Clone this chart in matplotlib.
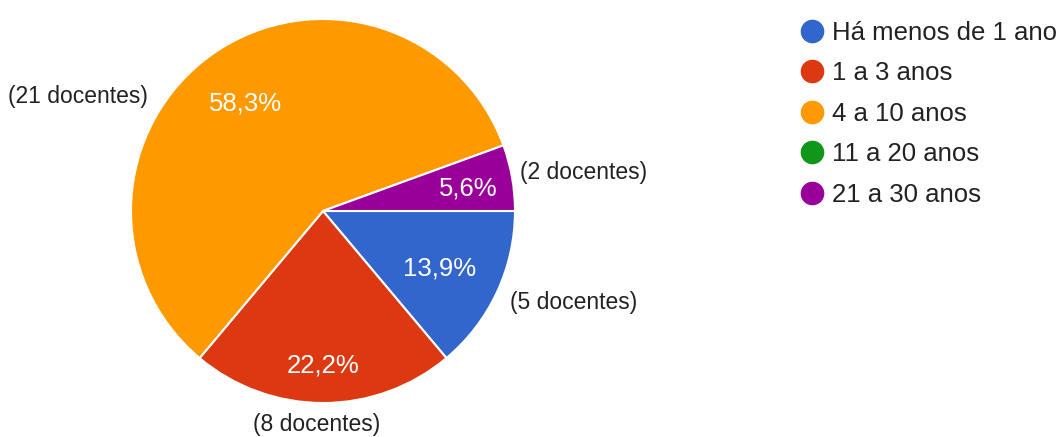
import matplotlib
matplotlib.use("Agg")
from matplotlib import pyplot as plt
from matplotlib.lines import Line2D
import numpy as np

plt.rcParams['font.family'] = ['Liberation Sans', 'DejaVu Sans']

categories = ["Há menos de 1 ano", "1 a 3 anos", "4 a 10 anos", "11 a 20 anos", "21 a 30 anos"]
counts = [5, 8, 21, 0, 2]
colors = ["#3366CC", "#DC3912", "#FF9900", "#109618", "#990099"]
count_labels = ["(5 docentes)", "(8 docentes)", "(21 docentes)", "(0 docentes)", "(2 docentes)"]

# outer label placement (pixel layout, y from top), only for slices that show
label_pos = {0: (510, 303, 'left'), 1: (317, 425, 'center'),
             2: (148, 97, 'right'), 4: (520, 173, 'left')}
# distance of the percent text from centre, as fraction of radius
pct_dist = {0: 0.67, 1: 0.79, 2: 0.70, 4: 0.77}

W, H = 1060, 437
fig = plt.figure(figsize=(W / 100, H / 100), dpi=100)
ax = fig.add_axes([0, 0, 1, 1])

shown = [i for i, c in enumerate(counts) if c > 0]
vals = [counts[i] for i in shown]

cx, cy, R = 323, H - 211, 192
wedges, texts, autotexts = ax.pie(
    vals, colors=[colors[i] for i in shown], startangle=0, counterclock=False,
    center=(cx, cy), radius=R, frame=True,
    autopct=lambda p: ("%.1f%%" % p).replace(".", ","), pctdistance=0.74,
    wedgeprops=dict(edgecolor='white', linewidth=1.5),
    textprops=dict(color='white', fontsize=18.5))
ax.set_xlim(0, W)
ax.set_ylim(0, H)
ax.set_aspect('equal')
ax.axis('off')

for w, t, i in zip(wedges, autotexts, shown):
    ang = np.deg2rad((w.theta1 + w.theta2) / 2)
    d = pct_dist[i] * R
    t.set_position((cx + d * np.cos(ang), cy + d * np.sin(ang) - 3))
    t.set_va('center')

for i in shown:
    x, y, ha = label_pos[i]
    ax.text(x, H - y, count_labels[i], ha=ha, va='center', fontsize=16.5, color='#222222')

handles = [Line2D([], [], marker='o', linestyle='none', markersize=16,
                  markerfacecolor=c, markeredgecolor=c) for c in colors]
fig.legend(handles, categories, loc='upper left', bbox_to_anchor=(799 / W, 1 - 21 / H),
           frameon=False, fontsize=18.5, handletextpad=0.3, labelspacing=0.64,
           borderaxespad=0, borderpad=0, handlelength=1.0, labelcolor='#222222')

fig.savefig("out.png", dpi=100)
